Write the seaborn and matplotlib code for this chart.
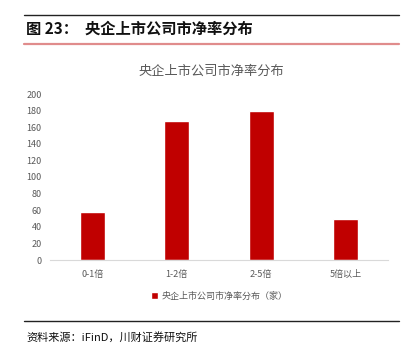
import matplotlib
matplotlib.use("Agg")
import matplotlib.pyplot as plt
import seaborn as sns
import pandas as pd

categories = ["0-1倍", "1-2倍", "2-5倍", "5倍以上"]
values = [58, 168, 180, 50]
series_name = "央企上市公司市净率分布（家）"
chart_title = "央企上市公司市净率分布"
header = "图 23：  央企上市公司市净率分布"
source = "资料来源：iFinD，川财证券研究所"
yticks = [0, 20, 40, 60, 80, 100, 120, 140, 160, 180, 200]

sns.set_theme(style="white")
plt.rcParams['font.family'] = ['Noto Sans CJK SC', 'DejaVu Sans']

df = pd.DataFrame({"cat": categories, "val": values, "series": series_name})

fig = plt.figure(figsize=(4.11, 3.57), dpi=100)
ax = fig.add_axes([50/411, 1-260/357, 338/411, 166/357])
sns.barplot(data=df, x="cat", y="val", hue="series", palette=["#C00000"],
            saturation=1, width=0.29, ax=ax, legend=True)
ax.set_ylim(0, 200)
ax.set_yticks(yticks)
ax.set_xlabel("")
ax.set_ylabel("")
for s in ["top", "right", "left"]:
    ax.spines[s].set_visible(False)
ax.spines["bottom"].set_color("#d9d9d9")
ax.spines["bottom"].set_linewidth(0.8)
ax.tick_params(axis="both", length=0, labelsize=6.5, colors="#595959", pad=6)
ax.tick_params(axis="x", pad=7)

leg = ax.legend(loc="upper center", bbox_to_anchor=(0.5, -0.14), frameon=False,
                fontsize=6.5, handlelength=0.8, handleheight=0.8, handletextpad=0.4)
for t in leg.get_texts():
    t.set_color("#595959")

fig.text(211/411, 1-71/357, chart_title, ha="center", va="center", fontsize=9.5, color="#595959")

# header
fig.add_artist(plt.Line2D([24/411, 399/411], [1-14.5/357, 1-14.5/357], color="#222222", lw=1.0))
fig.text(26/411, 1-29/357, header, ha="left", va="center", fontsize=11, fontweight="bold", color="#111111")
fig.add_artist(plt.Line2D([24/411, 399/411], [1-43.5/357, 1-43.5/357], color="#e08c8c", lw=1.6))

# footer
fig.add_artist(plt.Line2D([24/411, 399/411], [1-321/357, 1-321/357], color="#222222", lw=1.0))
fig.text(26/411, 1-337/357, source, ha="left", va="center", fontsize=8, style="italic", color="#111111")

fig.savefig("out.png", dpi=100)
